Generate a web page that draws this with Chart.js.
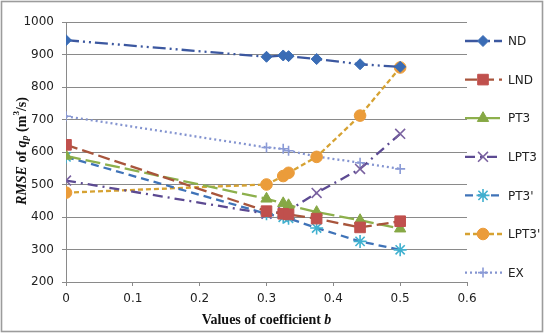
<!DOCTYPE html>
<html>
<head>
<meta charset="utf-8">
<script src="https://cdn.jsdelivr.net/npm/chart.js@4.4.1/dist/chart.umd.min.js"></script>
<style>
  html, body { margin: 0; padding: 0; background: #fff; }
  #wrap { width: 550px; height: 336px; }
</style>
</head>
<body>
<div id="wrap"><canvas id="rmseChart" width="550" height="336"></canvas></div>
<script>
// values of coefficient b (x) and RMSE of qp for each distribution
let bValues = [0, 0.3, 0.325, 0.333, 0.375, 0.44, 0.5];
let seriesNames = ['ND', 'LND', 'PT3', 'LPT3', "PT3'", "LPT3'", 'EX'];
let ndValues = [944, 893, 897, 895, 886, 870, 862];
let lndValues = [622, 418, 410, 408, 395, 368, 387];
let pt3Values = [588, 456, 442, 436, 415, 390, 364];
let lpt3Values = [512, 410, 416, 420, 474, 548, 656];
let pt3pValues = [585, 410, 399, 396, 366, 325, 299];
let lpt3pValues = [475, 500, 526, 536, 585, 712, 860];
let exValues = [710, 614, 610, 604, 586, 567, 548];
let xTicks = [0, 0.1, 0.2, 0.3, 0.4, 0.5, 0.6];
let yTicks = [200, 300, 400, 500, 600, 700, 800, 900, 1000];

let toPoints = function (ys) {
    return bValues.map(function (b, i) { return { x: b, y: ys[i] }; });
};

let styles = [
    { line: '#3c58a0', mark: '#3a6cb5', dash: [13, 4, 2, 4, 2, 4], shape: 'rectRot', r: 5.5 },
    { line: '#a8553c', mark: '#c0504d', dash: [12, 5], shape: 'rect', r: 7.5 },
    { line: '#8db04c', mark: '#86a845', dash: [15, 5], shape: 'triangle', r: 6.5 },
    { line: '#5c4a92', mark: '#7a62a0', dash: [10, 5, 2, 5], shape: 'crossRot', r: 7 },
    { line: '#3f73b8', mark: '#3fb0cf', dash: [8, 5], shape: 'star', r: 6.5 },
    { line: '#d6a232', mark: '#eb9c3a', dash: [5, 3], shape: 'circle', r: 5.8 },
    { line: '#8494d0', mark: '#8a9ad6', dash: [2, 3], shape: 'cross', r: 5 }
];
let allValues = [ndValues, lndValues, pt3Values, lpt3Values, pt3pValues, lpt3pValues, exValues];

let datasets = allValues.map(function (vals, i) {
    let s = styles[i];
    let open = (s.shape === 'crossRot' || s.shape === 'star' || s.shape === 'cross');
    return {
        label: seriesNames[i],
        data: toPoints(vals),
        borderColor: s.line,
        borderWidth: 2.3,
        borderDash: s.dash,
        backgroundColor: s.mark,
        pointStyle: s.shape,
        pointRadius: s.r,
        pointHoverRadius: s.r,
        pointBackgroundColor: s.mark,
        pointBorderColor: s.mark,
        pointBorderWidth: open ? 1.6 : 1,
        tension: 0,
        fill: false
    };
});

// frame, axis titles and the legend drawn by hand
let decorPlugin = {
    id: 'decor',
    beforeDraw: function (chart) {
        let ctx = chart.ctx;
        ctx.save();
        ctx.fillStyle = '#fff';
        ctx.fillRect(0, 0, chart.width, chart.height);
        ctx.restore();
    },
    afterDraw: function (chart) {
        let ctx = chart.ctx;
        let area = chart.chartArea;
        ctx.save();
        ctx.strokeStyle = '#9c9c9c';
        ctx.lineWidth = 1.6;
        ctx.strokeRect(1.5, 1.5, 541, 330);

        // y title
        let serif = '"Liberation Serif", "Times New Roman", serif';
        let parts = [
            ['RMSE', 'italic bold 14px ' + serif, 0],
            [' of ', 'bold 14px ' + serif, 0],
            ['q', 'italic bold 14px ' + serif, 0],
            ['p', 'italic bold 10px ' + serif, 3],
            [' (m', 'bold 14px ' + serif, 0],
            ['3', 'bold 9px ' + serif, -5],
            ['/s)', 'bold 14px ' + serif, 0]
        ];
        let total = 0;
        parts.forEach(function (p) { ctx.font = p[1]; total += ctx.measureText(p[0]).width; });
        ctx.translate(22, 151);
        ctx.rotate(-Math.PI / 2);
        ctx.fillStyle = '#111';
        ctx.textBaseline = 'middle';
        let x = -total / 2;
        parts.forEach(function (p) {
            ctx.font = p[1];
            ctx.fillText(p[0], x, p[2]);
            x += ctx.measureText(p[0]).width;
        });
        ctx.setTransform(1, 0, 0, 1, 0, 0);

        // x title
        let xparts = [
            ['Values of coefficient ', 'bold 14px ' + serif],
            ['b', 'italic bold 14px ' + serif]
        ];
        total = 0;
        xparts.forEach(function (p) { ctx.font = p[1]; total += ctx.measureText(p[0]).width; });
        x = (area.left + area.right) / 2 - total / 2;
        ctx.textBaseline = 'middle';
        xparts.forEach(function (p) {
            ctx.font = p[1];
            ctx.fillText(p[0], x, 320);
            x += ctx.measureText(p[0]).width;
        });

        // legend
        chart.data.datasets.forEach(function (ds, i) {
            let y = 41 + i * 38.6;
            ctx.save();
            ctx.strokeStyle = ds.borderColor;
            ctx.lineWidth = ds.borderWidth;
            ctx.setLineDash(ds.borderDash);
            ctx.beginPath();
            ctx.moveTo(465, y);
            ctx.lineTo(502, y);
            ctx.stroke();
            ctx.restore();
            if (Chart.helpers && Chart.helpers.drawPoint) {
                ctx.save();
                ctx.fillStyle = ds.pointBackgroundColor;
                ctx.strokeStyle = ds.pointBorderColor;
                ctx.lineWidth = ds.pointBorderWidth;
                Chart.helpers.drawPoint(ctx, {
                    pointStyle: ds.pointStyle,
                    radius: ds.pointRadius,
                    rotation: 0,
                    borderWidth: ds.pointBorderWidth
                }, 483, y);
                ctx.restore();
            }
            ctx.fillStyle = '#222';
            ctx.font = '12px "DejaVu Sans", sans-serif';
            ctx.textBaseline = 'middle';
            ctx.fillText(ds.label, 508, y + 1);
        });
        ctx.restore();
    }
};

new Chart(document.getElementById('rmseChart'), {
    type: 'line',
    data: { datasets: datasets },
    options: {
        responsive: false,
        animation: false,
        layout: { padding: { left: 0, top: 22, right: 83, bottom: 0 } },
        plugins: { legend: { display: false }, tooltip: { enabled: false } },
        scales: {
            x: {
                type: 'linear',
                min: 0,
                max: 0.6,
                afterFit: function (scale) { scale.height = 54; },
                afterBuildTicks: function (scale) {
                    scale.ticks = xTicks.map(function (v) { return { value: v }; });
                },
                grid: { drawOnChartArea: false, drawTicks: true, tickLength: 4, color: '#8a8a8a' },
                border: { color: '#8a8a8a', width: 1 },
                ticks: {
                    color: '#222',
                    font: { family: '"DejaVu Sans", sans-serif', size: 12 },
                    padding: 6,
                    maxRotation: 0,
                    callback: function (v) { return String(v); }
                }
            },
            y: {
                min: 200,
                max: 1000,
                afterFit: function (scale) { scale.width = 66; },
                afterBuildTicks: function (scale) {
                    scale.ticks = yTicks.map(function (v) { return { value: v }; });
                },
                grid: { color: '#8a8a8a', lineWidth: 1, tickLength: 4 },
                border: { color: '#8a8a8a', width: 1 },
                ticks: {
                    color: '#222',
                    font: { family: '"DejaVu Sans", sans-serif', size: 12 },
                    padding: 8,
                    callback: function (v) { return String(v); }
                }
            }
        }
    },
    plugins: [decorPlugin]
});
</script>
</body>
</html>
